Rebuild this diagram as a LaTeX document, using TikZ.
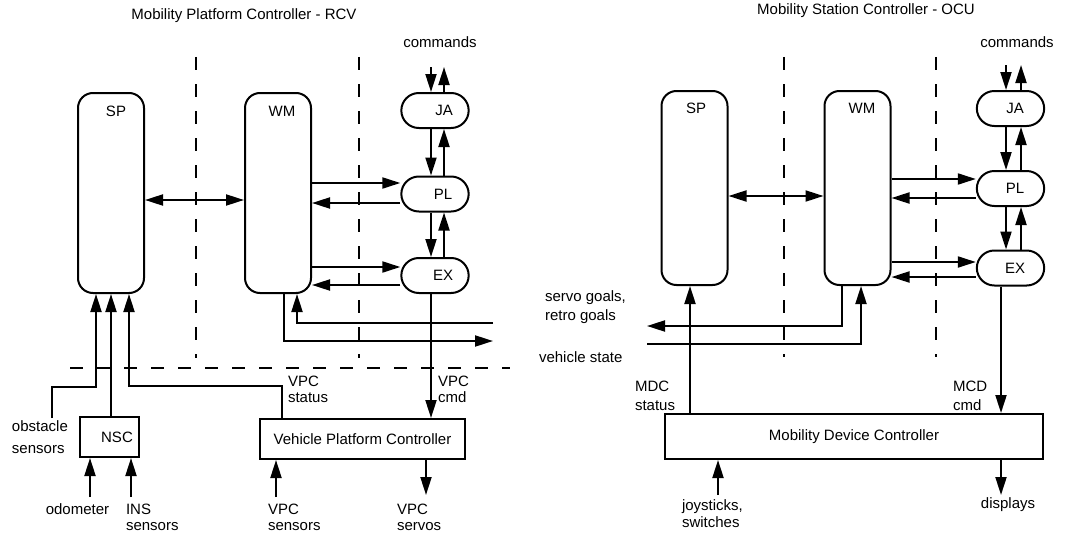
\documentclass[tikz,border=0pt]{standalone}
\usepackage{fontspec}
\setmainfont{Liberation Sans}
\usetikzlibrary{arrows.meta,shapes.misc}
\begin{document}
\begin{tikzpicture}[x=1pt,y=-1pt,line width=2pt,
  font=\fontsize{15}{16}\selectfont,
  >={Triangle[length=18pt,width=11pt]},
  tall/.style={draw,rectangle,rounded corners=15pt,minimum width=66pt,minimum height=#1},
  pill/.style={draw,rounded rectangle,minimum width=74pt,minimum height=35pt},
  ctrl/.style={draw,rectangle},
  lbl/.style={align=left,inner sep=0pt,anchor=west},
  sep/.style={dash pattern=on 13pt off 14pt}]
\useasboundingbox (0,0) rectangle (1075,535);
\node (titleL) at (244,16) {Mobility Platform Controller - RCV};
\node (titleR) at (866,11) {Mobility Station Controller - OCU};
\node (cmdtxtL) at (440,42) {commands};
\node (cmdtxtR) at (1017,42) {commands};
\draw[sep] (196,57) -- (196,358);
\draw[sep] (359,57) -- (359,358);
\draw[sep] (70,368) -- (510,368);
\draw[sep] (784,57) -- (784,357);
\draw[sep] (936,57) -- (936,357);
\node[tall=200pt,label={[anchor=center,xshift=5pt,yshift=-19pt]north:SP}] (spL) at (111,193) {};
\node[tall=200pt,label={[anchor=center,xshift=4pt,yshift=-19pt]north:WM}] (wmL) at (278,193) {};
\node[pill,label={[xshift=9pt]center:JA}] (jaL) at (435,110.5) {};
\node[pill,label={[xshift=8pt]center:PL}] (plL) at (435,194) {};
\node[pill,label={[xshift=8pt]center:EX}] (exL) at (435,275.5) {};
\node[ctrl,minimum width=59pt,minimum height=40pt,label={[xshift=7.5pt]center:NSC}] (nsc) at (109.5,437) {};
\node[ctrl,minimum width=205pt,minimum height=40pt] (vpc) at (362.5,439) {Vehicle Platform Controller};
\coordinate (cmdLin) at (431,67);
\coordinate (cmdLout) at (444,67);
\draw[->] (cmdLin) -- (cmdLin |- jaL.north);
\draw[->] (cmdLout |- jaL.north) -- (cmdLout);
\draw[->] ([xshift=-4pt]jaL.south) -- ([xshift=-4pt]plL.north);
\draw[->] ([xshift=9pt]plL.north) -- ([xshift=9pt]jaL.south);
\draw[->] ([xshift=-4pt]plL.south) -- ([xshift=-4pt]exL.north);
\draw[->] ([xshift=9pt]exL.north) -- ([xshift=9pt]plL.south);
\draw[<->] ([yshift=-7pt]spL.east) -- ([yshift=-7pt]wmL.west);
\draw[->] ([yshift=11pt]plL.west -| wmL.east) -- ([yshift=11pt]plL.west);
\draw[->] ([yshift=-9pt]plL.west) -- ([yshift=-9pt]plL.west -| wmL.east);
\draw[->] ([yshift=8.5pt]exL.west -| wmL.east) -- ([yshift=8.5pt]exL.west);
\draw[->] ([yshift=-9.5pt]exL.west) -- ([yshift=-9.5pt]exL.west -| wmL.east);
\coordinate (vsOutL) at (493,341);
\coordinate (sgInL) at (493,323);
\draw[->] ([xshift=6pt]wmL.south) |- (vsOutL);
\draw[->] (sgInL) -| ([xshift=19pt]wmL.south);
\draw[->] ([xshift=-4pt]exL.south) -- ([xshift=-4pt]exL.south |- vpc.north);
\draw[->] ([xshift=-80.5pt]vpc.north) -- ++(0,-32) -| ([xshift=18pt]spL.south);
\coordinate (obsL) at (52,418);
\draw[->] (obsL) -- ++(0,-31) -| ([xshift=-15pt]spL.south);
\draw[->] (nsc.north -| spL.south) -- (spL.south);
\coordinate (odoL) at (90,497);
\coordinate (insL) at (131,497);
\coordinate (vpcsL) at (276,497);
\coordinate (servL) at (426,495);
\draw[->] (odoL) -- (odoL |- nsc.south);
\draw[->] (insL) -- (insL |- nsc.south);
\draw[->] (vpcsL) -- (vpcsL |- vpc.south);
\draw[->] (servL |- vpc.south) -- (servL);
\node[lbl] (vpcstat) at (287,389.5) {VPC\\status};
\node[lbl] (vpccmd) at (437,389.5) {VPC\\cmd};
\node[lbl] (obstxt) at (11,437) {obstacle\\[6pt]sensors};
\node (odotxt) at (77.5,509) {odometer};
\node[lbl] (instxt) at (125,517) {INS\\sensors};
\node[lbl] (vpcstxt) at (267,517) {VPC\\sensors};
\node[lbl] (servtxt) at (396,517) {VPC\\servos};
\node[tall=194pt,label={[anchor=center,xshift=1.5pt,yshift=-18pt]north:SP}] (spR) at (694.5,188) {};
\node[tall=194pt,label={[anchor=center,xshift=4.5pt,yshift=-18pt]north:WM}] (wmR) at (857.5,188) {};
\node[pill,label={[xshift=4.5pt]center:JA}] (jaR) at (1010.5,108.5) {};
\node[pill,label={[xshift=4.5pt]center:PL}] (plR) at (1010.5,188.5) {};
\node[pill,label={[xshift=4.5pt]center:EX}] (exR) at (1010.5,268) {};
\node[ctrl,minimum width=378pt,minimum height=45pt] (mdc) at (854,436.5) {Mobility Device Controller};
\coordinate (cmdRin) at (1006,65);
\coordinate (cmdRout) at (1021,65);
\draw[->] (cmdRin) -- (cmdRin |- jaR.north);
\draw[->] (cmdRout |- jaR.north) -- (cmdRout);
\draw[->] ([xshift=-4.5pt]jaR.south) -- ([xshift=-4.5pt]plR.north);
\draw[->] ([xshift=10.5pt]plR.north) -- ([xshift=10.5pt]jaR.south);
\draw[->] ([xshift=-4.5pt]plR.south) -- ([xshift=-4.5pt]exR.north);
\draw[->] ([xshift=10.5pt]exR.north) -- ([xshift=10.5pt]plR.south);
\draw[<->] ([yshift=-8pt]spR.east) -- ([yshift=-8pt]wmR.west);
\draw[->] ([yshift=9.5pt]plR.west -| wmR.east) -- ([yshift=9.5pt]plR.west);
\draw[->] ([yshift=-9.5pt]plR.west) -- ([yshift=-9.5pt]plR.west -| wmR.east);
\draw[->] ([yshift=6pt]exR.west -| wmR.east) -- ([yshift=6pt]exR.west);
\draw[->] ([yshift=-9pt]exR.west) -- ([yshift=-9pt]exR.west -| wmR.east);
\coordinate (sgOutR) at (647,326);
\coordinate (vsInR) at (647,344);
\draw[->] ([xshift=-15.5pt]wmR.south) |- (sgOutR);
\draw[->] (vsInR) -| ([xshift=3.5pt]wmR.south);
\draw[->] ([xshift=-4.5pt]spR.south |- mdc.north) -- ([xshift=-4.5pt]spR.south);
\draw[->] ([xshift=-9.5pt]exR.south) -- ([xshift=-9.5pt]exR.south |- mdc.north);
\coordinate (joyR) at (718,495);
\coordinate (dispR) at (1001,495);
\draw[->] (joyR) -- (joyR |- mdc.south);
\draw[->] (dispR |- mdc.south) -- (dispR);
\node[lbl] (goaltxt) at (544,307.5) {servo goals,\\[3pt]retro goals};
\node[lbl] (vstxt) at (538,357) {vehicle state};
\node[lbl] (mdcstat) at (634,395.5) {MDC\\[3pt]status};
\node[lbl] (mcdcmd) at (952,395.5) {MCD\\[3pt]cmd};
\node[lbl] (joytxt) at (681,513.5) {joysticks,\\[1pt]switches};
\node (disptxt) at (1008,505) {displays};
\end{tikzpicture}
\end{document}
